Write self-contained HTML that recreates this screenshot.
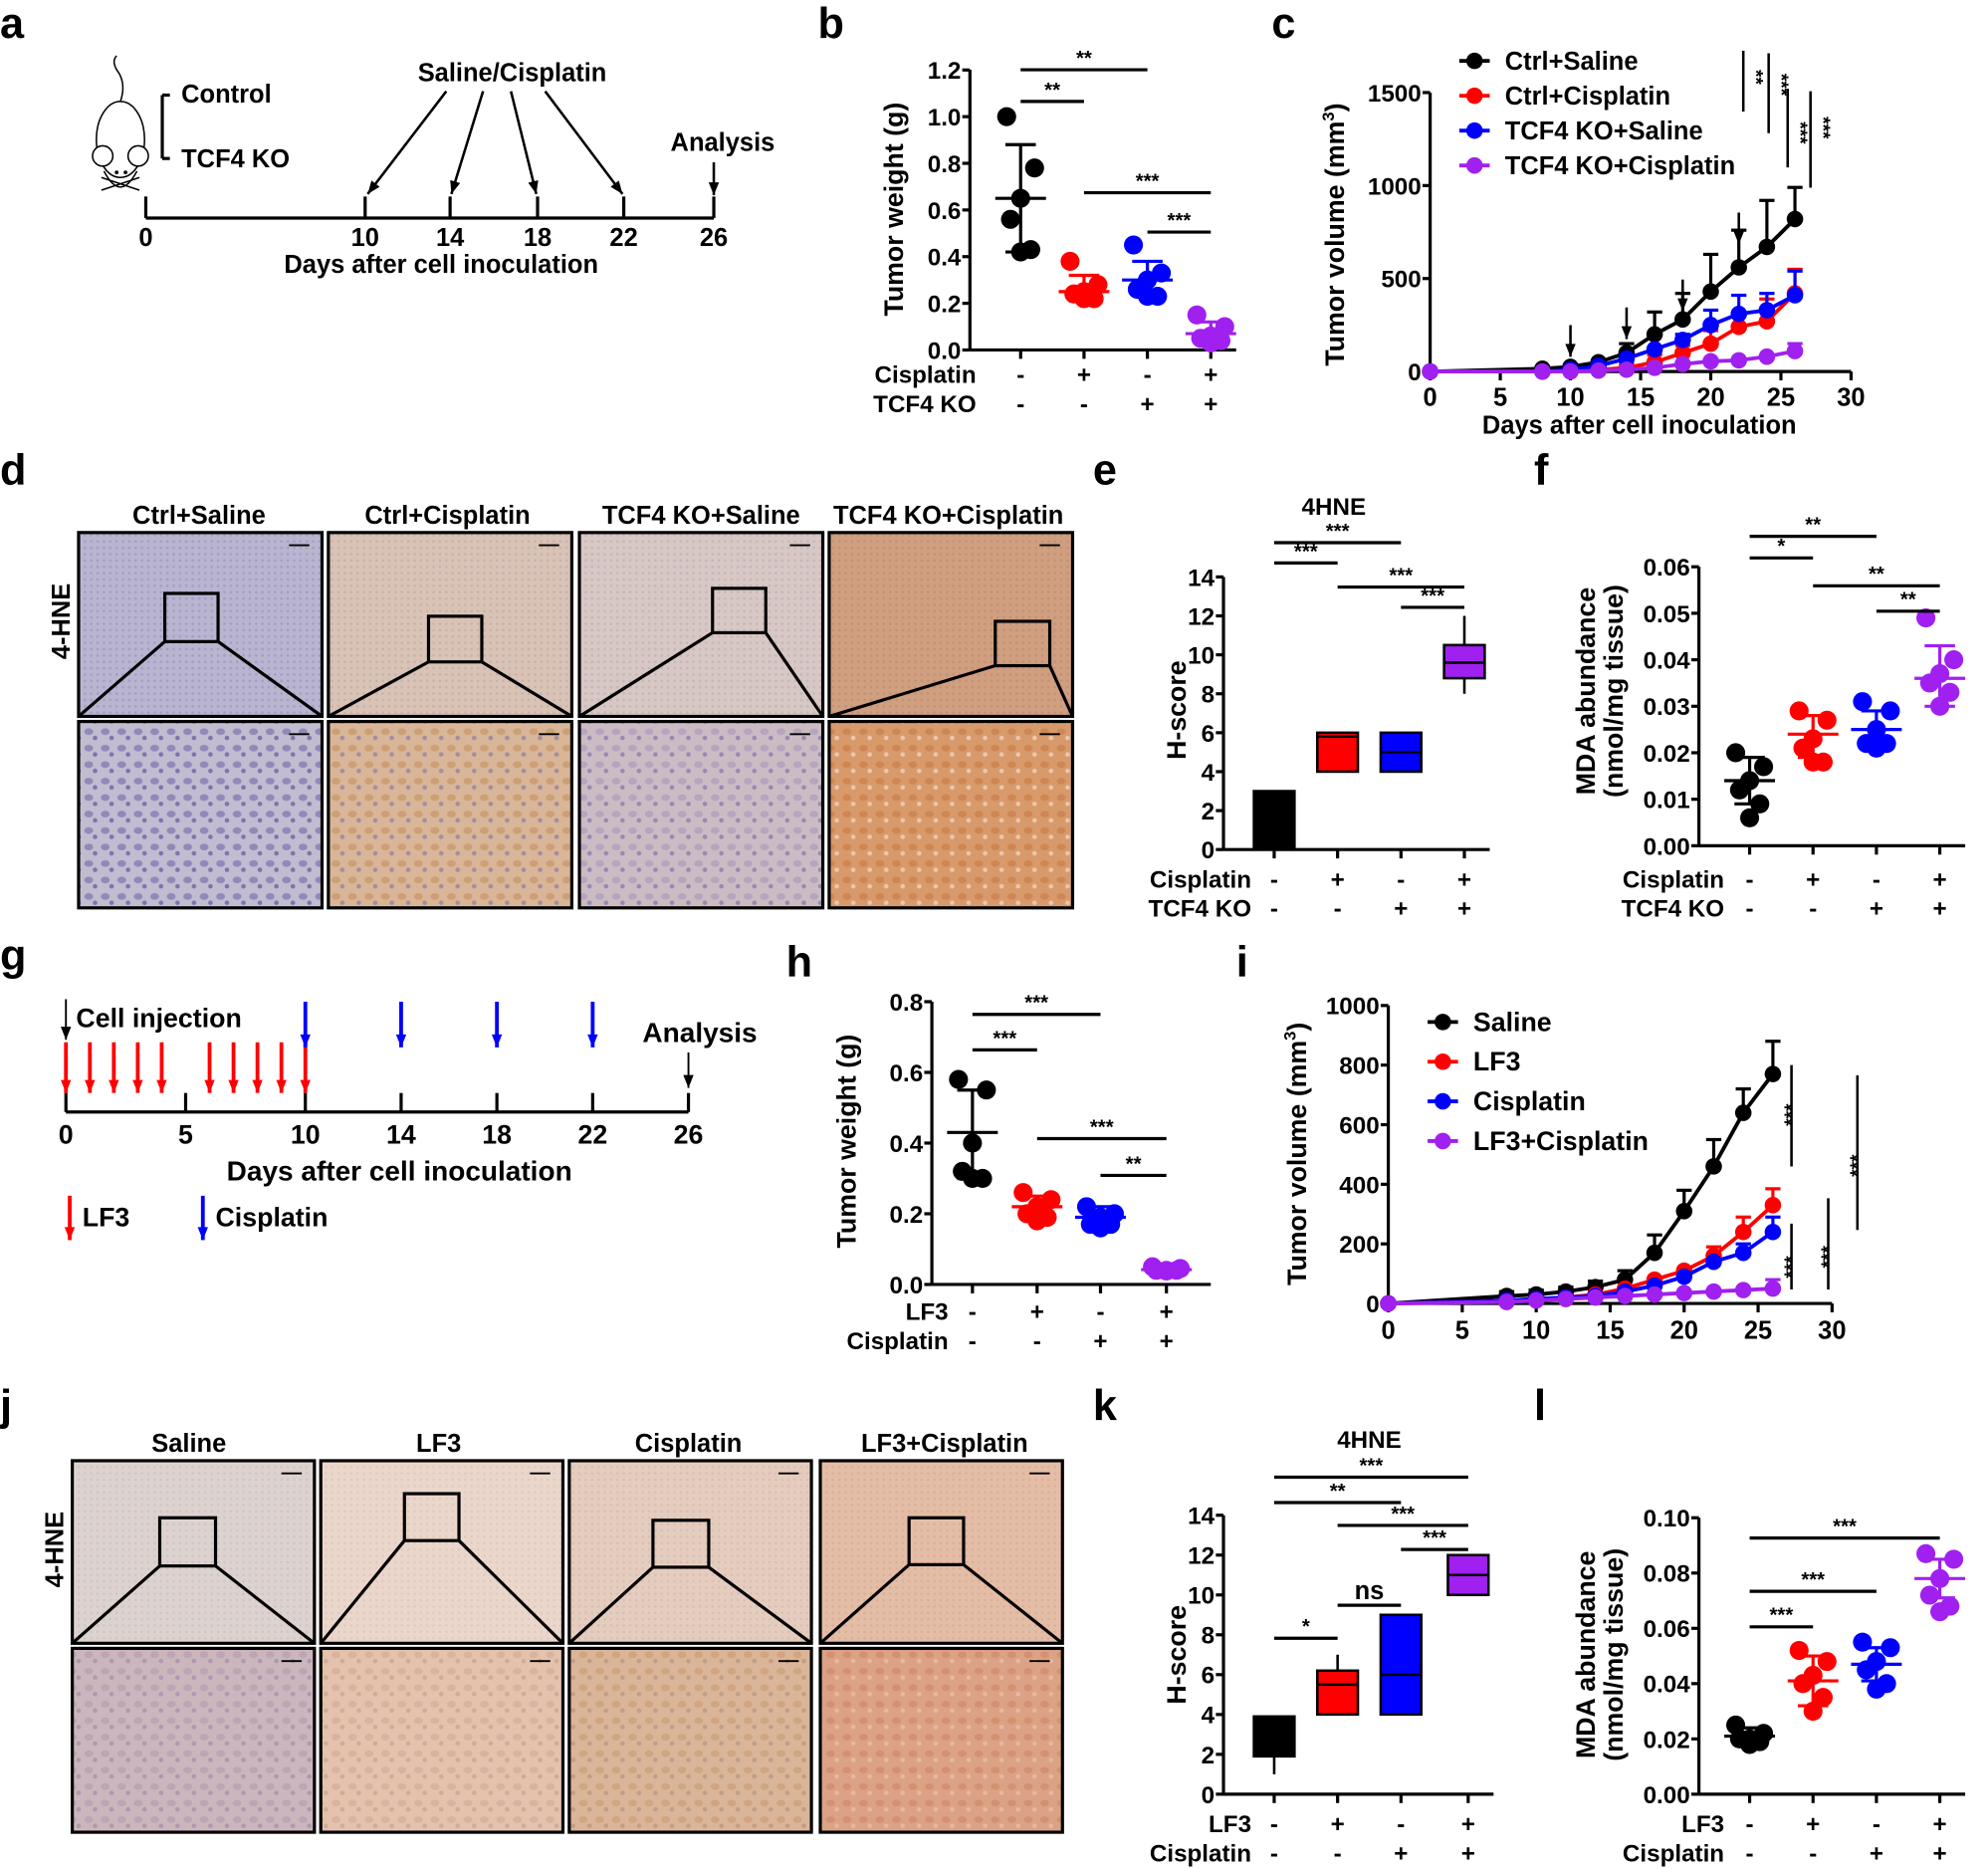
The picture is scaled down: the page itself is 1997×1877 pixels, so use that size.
<!DOCTYPE html>
<html><head><meta charset="utf-8"><style>
html,body{margin:0;padding:0;background:#fff;}
svg{display:block;}
text{font-family:"Liberation Sans",Arial,sans-serif;font-weight:bold;fill:#000;}
</style></head><body>
<svg id="s" width="1997" height="1877" viewBox="0 0 1568 1474" preserveAspectRatio="none" xmlns="http://www.w3.org/2000/svg"></svg>
<script>
const S=document.getElementById('s');let h='';
function T(x,y,s,sz,a,ex){h+=`<text x="${x}" y="${y}" font-size="${sz||19}" text-anchor="${a||'start'}" ${ex||''}>${s}</text>`;}
function RT(x,y,s,sz){h+=`<text x="${x}" y="${y}" font-size="${sz||19}" text-anchor="middle" transform="rotate(-90 ${x} ${y})">${s}</text>`;}
function L(x1,y1,x2,y2,w,c){h+=`<line x1="${x1}" y1="${y1}" x2="${x2}" y2="${y2}" stroke="${c||'#000'}" stroke-width="${w||2.5}"/>`;}
function R(x,y,w,hh,f,st,sw){h+=`<rect x="${x}" y="${y}" width="${w}" height="${hh}" fill="${f}" stroke="${st||'none'}" stroke-width="${sw||0}"/>`;}
function C(x,y,r,f){h+=`<circle cx="${x}" cy="${y}" r="${r}" fill="${f}"/>`;}
function AR(x1,y1,x2,y2,c,w){c=c||'#000';w=w||2;L(x1,y1,x2,y2,w,c);const a=Math.atan2(y2-y1,x2-x1),l=11,s=0.38;
h+=`<polygon points="${x2},${y2} ${x2-l*Math.cos(a-s)},${y2-l*Math.sin(a-s)} ${x2-l*Math.cos(a+s)},${y2-l*Math.sin(a+s)}" fill="${c}"/>`;}
function sig(x1,x2,y,s){L(x1,y,x2,y,2.5);T((x1+x2)/2,y-4,s,16,'middle');}
const COL=['#000','#f00','#00f','#a020f0'];
function yax(x,y0,y1,ticks,labels){L(x,y0,x,y1,2.5);ticks.forEach((t,i)=>{L(x-6,t,x,t,2.5);T(x-7,t+7,labels[i],19,'end');});}
function scat(ax,y0,scale,gx,data,xend){
 L(ax,y0,xend,y0,2.5);gx.forEach(g=>L(g,y0,g,y0+7,2.5));
 data.forEach((d,i)=>{const c=COL[i],g=gx[i];const offs=[-11,11,0,-8,8,0,-4];
  d.p.forEach((v,j)=>C(g+offs[j%7],y0-v*scale,7.5,c));
  L(g,y0-d.lo*scale,g,y0-d.hi*scale,2.5,c);
  L(g-12,y0-d.lo*scale,g+12,y0-d.lo*scale,2.5,c);L(g-12,y0-d.hi*scale,g+12,y0-d.hi*scale,2.5,c);
  L(g-20,y0-d.m*scale,g+20,y0-d.m*scale,2.5,c);});}
function rows(gx,y1,y2,r1,r2,l1,l2,lx){T(lx,y1,l1,19,'end');T(lx,y2,l2,19,'end');
 gx.forEach((g,i)=>{T(g,y1,r1[i],19,'middle');T(g,y2,r2[i],19,'middle');});}
// ===== a
T(0,30,'a',34);
h+=`<g fill="none" stroke="#000" stroke-width="1.2"><ellipse cx="95" cy="110" rx="19" ry="30"/><circle cx="81" cy="123" r="8" fill="#fff"/><circle cx="109" cy="123" r="8" fill="#fff"/><path d="M95 80 Q100 65 92 55 Q88 48 92 44"/><path d="M82 135 Q95 160 108 135"/><path d="M80 140 L110 150 M80 150 L110 140"/></g>`;
C(92,136,1.5,'#000');C(99,136,1.5,'#000');
L(128,75,128,125,2.5);L(128,75,134,75,2.5);L(128,125,134,125,2.5);
T(143,81,'Control',20);T(143,132,'TCF4 KO',20);
L(115,172,563,172,2.5);[115,288,355,424,492,563].forEach(x=>L(x,155,x,172,2.5));
[['0',115],['10',288],['14',355],['18',424],['22',492],['26',563]].forEach(a=>T(a[1],194,a[0],20,'middle'));
T(348,215,'Days after cell inoculation',20,'middle');
T(404,64,'Saline/Cisplatin',20,'middle');
AR(352,72,290,153);AR(381,72,356,153);AR(403,72,423,153);AR(430,72,491,153);
T(570,119,'Analysis',20,'middle');AR(563,128,563,154);
// ===== b
T(645,30,'b',34);
{const x=765,y0=276,sc=184;yax(x,y0,55,[0,.2,.4,.6,.8,1,1.2].map(v=>y0-v*sc),['0.0','0.2','0.4','0.6','0.8','1.0','1.2']);
RT(712,165,'Tumor weight (g)',21);
const gx=[805,855,905,955];
scat(x,y0,sc,gx,[{p:[1.0,.78,.65,.56,.43,.42],m:.65,lo:.42,hi:.88},{p:[.38,.28,.25,.24,.22,.22],m:.25,lo:.21,hi:.32},{p:[.45,.33,.3,.26,.23,.23],m:.3,lo:.24,hi:.38},{p:[.15,.1,.06,.05,.04,.03],m:.07,lo:.03,hi:.12}],975);
sig(805,905,55,'**');sig(805,855,80,'**');sig(855,955,152,'***');sig(905,955,183,'***');
rows(gx,302,325,['-','+','-','+'],['-','-','+','+'],'Cisplatin','TCF4 KO',770);}
function lc(x0,y0,xs,ys,days,ser,err){
 ser.forEach((s,i)=>{const c=COL[i];const pts=s.map((v,j)=>`${x0+days[j]*xs},${y0-v*ys}`).join(' ');
  s.forEach((v,j)=>{if(err[i]&&err[i][j]>v){const X=x0+days[j]*xs;L(X,y0-v*ys,X,y0-err[i][j]*ys,2.5,c);L(X-6,y0-err[i][j]*ys,X+6,y0-err[i][j]*ys,2.5,c);}});
  h+=`<polyline points="${pts}" fill="none" stroke="${c}" stroke-width="3"/>`;
  s.forEach((v,j)=>C(x0+days[j]*xs,y0-v*ys,6.5,c));});}
// ===== c
T(1003,30,'c',34);
{const x0=1128,y0=293,ys=220/1500,xs=332/30;
yax(x0,y0,73,[0,500,1000,1500].map(v=>y0-v*ys),['0','500','1000','1500']);
L(x0,y0,1460,y0,2.5);[0,5,10,15,20,25,30].forEach(d=>{L(x0+d*xs,y0,x0+d*xs,y0+7,2.5);T(x0+d*xs,320,d,20,'middle');});
T(1293,342,'Days after cell inoculation',20,'middle');
RT(1060,185,'Tumor volume (mm<tspan font-size="13" dy="-8">3</tspan><tspan dy="8">)</tspan>',21);
const days=[0,8,10,12,14,16,18,20,22,24,26];
lc(x0,y0,xs,ys,days,[[0,15,25,50,100,200,280,430,560,670,820],[0,0,5,10,20,50,100,150,240,270,420],[0,0,10,30,70,120,170,250,310,330,410],[0,0,0,5,10,20,40,55,60,80,110]],
[[0,0,0,0,150,320,420,630,760,920,990],[0,0,0,0,40,90,140,220,310,390,550],[0,0,0,0,0,110,200,330,410,420,540],[0,0,0,0,0,0,0,0,0,0,150]]);
[[10,45],[14,140],[18,290],[22,650]].forEach(a=>AR(x0+a[0]*xs,y0-a[1]*ys-30,x0+a[0]*xs,y0-a[1]*ys-5,'#000',2));
['Ctrl+Saline','Ctrl+Cisplatin','TCF4 KO+Saline','TCF4 KO+Cisplatin'].forEach((t,i)=>{const y=48+i*27.5;L(1151,y,1175,y,3,COL[i]);C(1163,y,6.5,COL[i]);T(1187,y+7,t,20);});
L(1375,40,1375,88,2);L(1395,42,1395,105,2);L(1410,70,1410,132,2);L(1428,72,1428,148,2);
h+=`<text font-size="15" transform="translate(1380,55) rotate(90)">**</text><text font-size="15" transform="translate(1400,58) rotate(90)">***</text><text font-size="15" transform="translate(1415,96) rotate(90)">***</text><text font-size="15" transform="translate(1433,92) rotate(90)">***</text>`;}
// ===== micrographs
function imgs(xs,w,ty,th,by,bh,topc,botc,boxes){
 xs.forEach((x,i)=>{const g='g'+i+'_'+ty;
  h+=`<defs><pattern id="${g}" width="5" height="5" patternUnits="userSpaceOnUse"><rect width="5" height="5" fill="${topc[i][0]}"/><circle cx="2" cy="2" r="1" fill="${topc[i][1]}" opacity="0.5"/></pattern><pattern id="${g}b" width="13" height="13" patternUnits="userSpaceOnUse"><rect width="13" height="13" fill="${botc[i][0]}"/><ellipse cx="5" cy="5" rx="3.5" ry="2.6" fill="${botc[i][1]}" opacity="0.6"/><circle cx="10" cy="10" r="1.8" fill="${botc[i][2]}" opacity="0.6"/></pattern></defs>`;
  R(x,ty,w,th,`url(#${g})`,'#000',2.5);R(x,by,w,bh,`url(#${g}b)`,'#000',2.5);
  const b=boxes[i];R(b[0],b[1],b[2],b[3],'none','#000',2.5);
  L(b[0],b[1]+b[3],x,ty+th,2.5);L(b[0]+b[2],b[1]+b[3],x+w,ty+th,2.5);
  L(x+w-26,ty+10,x+w-10,ty+10,1.5);L(x+w-26,by+10,x+w-10,by+10,1.5);});}
T(0,382,'d',34);
['Ctrl+Saline','Ctrl+Cisplatin','TCF4 KO+Saline','TCF4 KO+Cisplatin'].forEach((t,i)=>T([157,353,553,748][i],413,t,20,'middle'));
RT(55,490,'4-HNE',20);
imgs([62,259,457,654],192,420,145,569,147,
[['#b9b4cf','#8f86b6'],['#d9c3b4','#b79cb0'],['#d7c8c3','#b4a1b9'],['#cf9f80','#b9806a']],
[['#c2bcd0','#6f68a8','#4a4694'],['#d8b697','#c48f5f','#7f73a8'],['#cbbcc4','#a896b9','#6f6aa6'],['#d89a6b','#c67a45','#f1e6e4']],
[[130,468,42,38],[338,486,42,36],[562,464,42,35],[785,490,43,35]]);
function boxp(ax,y0,sc,gx,boxes,xend,ymax){
 yax(ax,y0,y0-ymax*sc,[0,2,4,6,8,10,12,14].map(v=>y0-v*sc),['0','2','4','6','8','10','12','14']);
 L(ax,y0,xend,y0,2.5);gx.forEach(g=>L(g,y0,g,y0+7,2.5));
 boxes.forEach((b,i)=>{const g=gx[i],c=COL[i];
  if(b.wl!=null){L(g,y0-b.wl*sc,g,y0-b.q1*sc,2);}
  if(b.wh!=null)L(g,y0-b.wh*sc,g,y0-b.q3*sc,2);
  R(g-16,y0-b.q3*sc,32,(b.q3-b.q1)*sc,c,'#000',2);
  L(g-16,y0-b.md*sc,g+16,y0-b.md*sc,2);});}
T(862,382,'e',34);T(1052,406,'4HNE',19,'middle');
{const gx=[1005,1055,1105,1155];
boxp(965,670,215/14,gx,[{q1:0,q3:3,md:0},{q1:4,q3:6,md:5.8},{q1:4,q3:6,md:5},{q1:8.8,q3:10.5,md:9.6,wl:8,wh:12}],1175,14);
RT(935,560,'H-score',21);
sig(1005,1105,428,'***');sig(1005,1055,444,'***');sig(1055,1155,463,'***');sig(1105,1155,479,'***');
rows(gx,700,723,['-','+','-','+'],['-','-','+','+'],'Cisplatin','TCF4 KO',987);}
T(1210,382,'f',34);
{const x=1340,y0=667,sc=220/.06;
yax(x,y0,447,[0,.01,.02,.03,.04,.05,.06].map(v=>y0-v*sc),['0.00','0.01','0.02','0.03','0.04','0.05','0.06']);
RT(1258,545,'MDA abundance',21);RT(1280,545,'(nmol/mg tissue)',21);
const gx=[1380,1430,1480,1530];
scat(x,y0,sc,gx,[{p:[.02,.017,.014,.012,.009,.006],m:.014,lo:.009,hi:.019},{p:[.029,.027,.023,.021,.018,.018],m:.024,lo:.019,hi:.028},{p:[.031,.029,.025,.022,.022,.021],m:.025,lo:.021,hi:.029},{p:[.049,.04,.037,.035,.033,.03],m:.036,lo:.03,hi:.043}],1550);
sig(1380,1480,423,'**');sig(1380,1430,440,'*');sig(1430,1530,462,'**');sig(1480,1530,482,'**');
rows(gx,700,723,['-','+','-','+'],['-','-','+','+'],'Cisplatin','TCF4 KO',1360);}
// ===== g
T(0,765,'g',34);
{const x0=52,sc=491/26,y=877;L(x0,y,543,y,2.5);
[0,5,10,14,18,22,26].forEach(d=>{L(x0+d*sc,y-15,x0+d*sc,y,2.5);T(x0+d*sc,902,d,21,'middle');});
T(315,931,'Days after cell inoculation',22,'middle');
AR(52,788,52,820,'#000',1.5);T(60,810,'Cell injection',21);
[0,1,2,3,4,6,7,8,9,10].forEach(d=>AR(x0+d*sc,822,x0+d*sc,862,'#f00',3));
[10,14,18,22].forEach(d=>AR(x0+d*sc,790,x0+d*sc,826,'#00f',3));
T(552,822,'Analysis',22,'middle');AR(543,830,543,858,'#000',1.5);
AR(55,943,55,978,'#f00',3);T(65,967,'LF3',21);AR(160,943,160,978,'#00f',3);T(170,967,'Cisplatin',21);}
// ===== h
T(620,770,'h',34);
{const x=735,y0=1013,sc=223/.8;
yax(x,y0,790,[0,.2,.4,.6,.8].map(v=>y0-v*sc),['0.0','0.2','0.4','0.6','0.8']);
RT(675,900,'Tumor weight (g)',21);
const gx=[767,818,868,920];
scat(x,y0,sc,gx,[{p:[.58,.55,.4,.32,.3,.3],m:.43,lo:.3,hi:.55},{p:[.26,.24,.22,.2,.19,.18],m:.22,lo:.19,hi:.25},{p:[.22,.2,.19,.17,.17,.16],m:.19,lo:.16,hi:.22},{p:[.05,.045,.04,.04,.04,.038],m:.042,lo:.038,hi:.046}],955);
sig(767,868,800,'***');sig(767,818,828,'***');sig(818,920,898,'***');sig(868,920,927,'**');
rows(gx,1041,1064,['-','+','-','+'],['-','-','+','+'],'LF3','Cisplatin',748);}
// ===== i
T(975,770,'i',34);
{const x0=1095,y0=1028,ys=235/1000,xs=350/30;
yax(x0,y0,793,[0,200,400,600,800,1000].map(v=>y0-v*ys),['0','200','400','600','800','1000']);
L(x0,y0,1445,y0,2.5);[0,5,10,15,20,25,30].forEach(d=>{L(x0+d*xs,y0,x0+d*xs,y0+7,2.5);T(x0+d*xs,1056,d,20,'middle');});
RT(1030,910,'Tumor volume (mm<tspan font-size="13" dy="-8">3</tspan><tspan dy="8">)</tspan>',21);
const days=[0,8,10,12,14,16,18,20,22,24,26];
lc(x0,y0,xs,ys,days,[[0,25,30,40,55,80,170,310,460,640,770],[0,10,15,20,30,50,80,110,160,240,330],[0,10,15,20,25,40,60,90,140,170,240],[0,5,10,15,20,25,30,35,40,45,50]],
[[0,40,45,55,75,110,230,380,550,720,880],[0,0,0,0,0,0,0,0,190,290,385],[0,0,0,0,0,0,0,0,0,200,290],[0,0,0,0,0,0,0,0,0,0,80]]);
['Saline','LF3','Cisplatin','LF3+Cisplatin'].forEach((t,i)=>{const y=806+i*31.3;L(1126,y,1150,y,3,COL[i]);C(1138,y,6.5,COL[i]);T(1162,y+7,t,21);});
L(1413,840,1413,920,2);L(1413,965,1413,1017,2);L(1442,945,1442,1017,2);L(1465,848,1465,970,2);
h+=`<text font-size="15" transform="translate(1418,888) rotate(-90)">***</text><text font-size="15" transform="translate(1418,1008) rotate(-90)">***</text><text font-size="15" transform="translate(1447,1000) rotate(-90)">***</text><text font-size="15" transform="translate(1470,928) rotate(-90)">***</text>`;}
// ===== j
T(0,1120,'j',34);
['Saline','LF3','Cisplatin','LF3+Cisplatin'].forEach((t,i)=>T([149,346,543,745][i],1145,t,20,'middle'));
RT(50,1222,'4-HNE',20);
imgs([57,253,449,647],191,1152,144,1300,145,
[['#dcd3cf','#c4b5bd'],['#ead6cb','#d9bcb2'],['#e4cdbf','#d1b09f'],['#e4bda6','#d4a08a']],
[['#cbb6bd','#b49aac','#9a86a6'],['#e3c2ae','#d3a88f','#c79a85'],['#dbb597','#c99a75','#b48c7e'],['#dca285','#cc8665','#eec6b6']],
[[126,1197,44,38],[319,1178,43,37],[515,1199,44,37],[717,1197,43,37]]);
// ===== k
T(862,1120,'k',34);T(1080,1142,'4HNE',19,'middle');
{const gx=[1005,1055,1105,1158];
boxp(965,1415,220/14,gx,[{q1:1.9,q3:3.9,md:2.4,wl:1},{q1:4,q3:6.2,md:5.5,wh:7},{q1:4,q3:9,md:6},{q1:10,q3:12,md:11}],1178,14);
RT(935,1305,'H-score',21);
sig(1005,1158,1165,'***');sig(1005,1105,1185,'**');sig(1055,1158,1203,'***');sig(1105,1158,1222,'***');
L(1055,1266,1105,1266,2.5);T(1080,1261,'ns',20,'middle');sig(1005,1055,1292,'*');
rows(gx,1445,1468,['-','+','-','+'],['-','-','+','+'],'LF3','Cisplatin',987);}
// ===== l
T(1210,1120,'l',34);
{const x=1340,y0=1415,sc=218/.1;
yax(x,y0,1197,[0,.02,.04,.06,.08,.1].map(v=>y0-v*sc),['0.00','0.02','0.04','0.06','0.08','0.10']);
RT(1258,1305,'MDA abundance',21);RT(1280,1305,'(nmol/mg tissue)',21);
const gx=[1380,1430,1480,1530];
scat(x,y0,sc,gx,[{p:[.025,.022,.02,.02,.019,.018],m:.021,lo:.018,hi:.024},{p:[.052,.048,.043,.04,.035,.03],m:.041,lo:.032,hi:.05},{p:[.055,.053,.048,.045,.04,.038],m:.047,lo:.041,hi:.053},{p:[.087,.085,.078,.072,.068,.066],m:.078,lo:.071,hi:.085}],1550);
sig(1380,1530,1213,'***');sig(1380,1480,1255,'***');sig(1380,1430,1283,'***');
rows(gx,1445,1468,['-','+','-','+'],['-','-','+','+'],'LF3','Cisplatin',1360);}
S.innerHTML=h;
</script>
</body></html>
